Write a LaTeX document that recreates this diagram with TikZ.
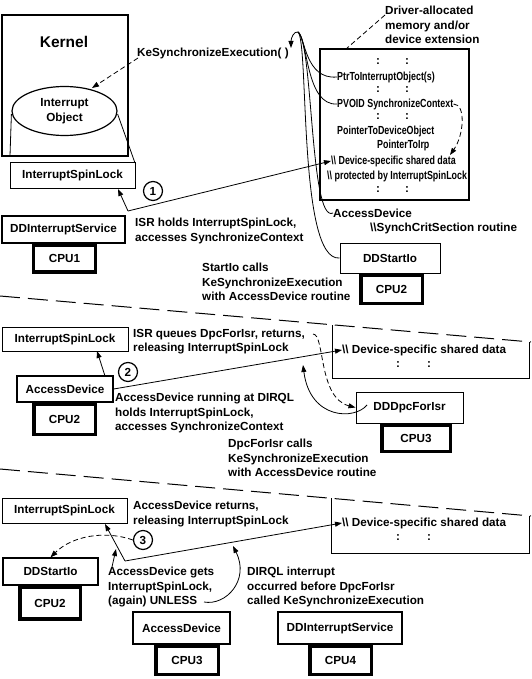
\documentclass[tikz,border=0pt]{standalone}
\usepackage{fontspec}
\setmainfont{Liberation Sans}
\newfontfamily\narrowfont[FakeStretch=0.76]{Liberation Sans}
\usetikzlibrary{arrows.meta,shapes.geometric}
\begin{document}
\begin{tikzpicture}[x=1pt,y=-1pt,
  every node/.style={font=\bfseries\fontsize{11.7}{14.5}\selectfont, inner sep=0pt},
  txt/.style={align=left, anchor=west},
  btxt/.style={txt, font=\narrowfont\bfseries\fontsize{11.7}{14.5}\selectfont},
  box/.style={draw, line width=1pt},
  cpu/.style={draw, line width=3.5pt},
  lin/.style={line width=0.8pt},
  arr/.style={lin, -{Triangle[length=7pt,width=5pt]}},
  darr/.style={arr, dash pattern=on 5pt off 3pt},
  dln/.style={lin, dash pattern=on 5pt off 3pt},
  sep/.style={line width=1pt, dash pattern=on 20pt off 8pt},
  num/.style={draw, circle, line width=1.2pt, minimum size=19pt}]
\useasboundingbox (0,0) rectangle (531,679);

% ---------------- panel 1 ----------------
\node[draw, line width=1.8pt, minimum width=126pt, minimum height=141pt] (kernel) at (65,85.5) {};
\node[font=\bfseries\fontsize{15.5}{18}\selectfont] (kl) at (64,42) {Kernel};
\node[draw, ellipse, line width=1.2pt, fill=white, minimum width=105pt, minimum height=49pt, align=center] (io) at (64.5,111) {Interrupt\\Object};
\node[box, minimum width=125pt, minimum height=25pt] (isl1) at (72.5,175.5) {InterruptSpinLock};
\coordinate (ioL) at (10,156);
\coordinate (ioR) at (135,163);
\draw[lin] (io.west) ++(0,3) coordinate (ioW) -- (ioL);
\draw[lin] (io.east) ++(0,3) coordinate (ioE) -- (ioR);
\node[box, line width=1.3pt, minimum width=123pt, minimum height=27pt] (dis1) at (63.5,229.5) {DDInterruptService};
\node[cpu, minimum width=62pt, minimum height=27pt] (cpu1) at (64.5,258.5) {CPU1};
\node[num] (n1) at (153,191) {1};

\node[txt] (kse) at (137,53) {KeSynchronizeExecution(\ )};
\draw[darr] (kse.west) ++(1,5) coordinate (kseS) -- (92,88) coordinate (ioT);

\node[txt] (drv) at (385,25) {Driver-allocated\\memory and/or\\device extension};
\node[draw, line width=1.8pt, minimum width=149pt, minimum height=151pt] (mem) at (394.5,124.5) {};
\draw[dln] (drv.west) ++(0,-10) coordinate (drvA) -- (346,49) coordinate (memT);

\foreach \y/\n in {62/c1,90/c2,117/c3,190/c4}{
  \node (\n a) at (378,\y) {:};
  \node (\n b) at (407,\y) {:};
}
\node[btxt] (ptr) at (337,77) {PtrToInterruptObject(s)};
\node[btxt] (pvoid) at (337,104) {PVOID SynchronizeContext};
\node[btxt] (ptdo) at (337,131) {PointerToDeviceObject};
\node[btxt] (ptirp) at (377,145) {PointerToIrp};
\node[btxt] (dsd1) at (331,161) {\textbackslash\textbackslash\ Device-specific shared data};
\node[btxt] (prot) at (327,176) {\textbackslash\textbackslash\ protected by InterruptSpinLock};

\node[txt] (isr1) at (135,231) {ISR holds InterruptSpinLock,\\accesses SynchronizeContext};
\node[txt] (acd) at (333,213) {AccessDevice};
\node[txt] (scs) at (370,228) {\textbackslash\textbackslash SynchCritSection routine};
\node[box, minimum width=100pt, minimum height=30pt] (dsio1) at (390,258) {DDStartIo};
\node[cpu, minimum width=61.5pt, minimum height=28.5pt] (cpu2a) at (391.5,289) {CPU2};
\node[txt] (sio) at (202,282) {StartIo calls\\KeSynchronizeExecution\\with AccessDevice routine};

% connectors panel 1
\coordinate (c1) at (128,211);
\coordinate (isl1t) at (118,189);
\draw[arr] (c1) -- (isl1t);
\draw[arr] (c1) -- (dsd1.west);
\coordinate (P) at (298,32);
\coordinate (hk) at (291,48);
\draw[arr] (P) .. controls (294,31) and (291,38) .. (hk);
\draw[lin] (P) .. controls (305,36) and (305,80) .. (ptr.west);
\draw[lin] (P) .. controls (308,40) and (306,106) .. (pvoid.west);
\draw[lin] (P) .. controls (313,42) and (310,224) .. (acd.west);
\draw[lin] (P) .. controls (309,42) and (298,262) .. (dsio1.west);
\draw[darr] (pvoid.east) .. controls (466,104) and (464,135) .. (450,155) coordinate (dsdT);

% separator 1
\coordinate (s1a) at (0,296);
\coordinate (s1b) at (531,342);
\draw[sep] (s1a) -- (s1b);

% ---------------- panel 2 ----------------
\node[box, minimum width=126pt, minimum height=24pt] (isl2) at (65,339) {InterruptSpinLock};
\node[box, line width=1.3pt, minimum width=96pt, minimum height=26pt] (ad2) at (65,389) {AccessDevice};
\node[cpu, minimum width=61.5pt, minimum height=30.5pt] (cpu2b) at (64.5,419) {CPU2};
\node[num] (n2) at (128,372) {2};
\node[txt] (q2) at (133,341.5) {ISR queues DpcForIsr, returns,\\releasing InterruptSpinLock};
\node[txt] (run2) at (115,413) {AccessDevice running at DIRQL\\holds InterruptSpinLock,\\accesses SynchronizeContext};
\node[txt] (dpcc) at (228,458) {DpcForIsr calls\\KeSynchronizeExecution\\with AccessDevice routine};
\draw[lin] (332,325) coordinate (d2a) -- (332,378) -- (529,378) -- (529,342) coordinate (d2b);
\node[txt] (dsd2) at (342,350) {\textbackslash\textbackslash\ Device-specific shared data};
\node (c5a) at (398,365) {:};
\node (c5b) at (429,365) {:};
\node[box, minimum width=107pt, minimum height=31pt] (dpc) at (409.5,407.5) {DDDpcForIsr};
\node[cpu, minimum width=68.5pt, minimum height=26.5pt] (cpu3a) at (416,438) {CPU3};

\coordinate (ad2t) at (105,376);
\coordinate (isl2b) at (97,351);
\draw[arr] (ad2t) -- (isl2b);
\draw[arr] (ad2.east) -- (dsd2.west);
\coordinate (ret) at (313,334);
\draw[darr] (ret) .. controls (325,334) and (318,398) .. (dpc.west);
\coordinate (dpcT) at (367,405);
\coordinate (m2) at (303,365);
\draw[arr] (dpcT) .. controls (355,420) and (310,420) .. (m2);

% separator 2
\coordinate (s2a) at (0,469);
\coordinate (s2b) at (531,516);
\draw[sep] (s2a) -- (s2b);

% ---------------- panel 3 ----------------
\node[box, minimum width=125pt, minimum height=25pt] (isl3) at (64.5,510.5) {InterruptSpinLock};
\node[txt] (ret3) at (133,514) {AccessDevice returns,\\releasing InterruptSpinLock};
\draw[lin] (331,498) coordinate (d3a) -- (331,553) -- (529,553) -- (529,516) coordinate (d3b);
\node[txt] (dsd3) at (342,523) {\textbackslash\textbackslash\ Device-specific shared data};
\node (c6a) at (398,538) {:};
\node (c6b) at (429,538) {:};
\node[num] (n3) at (143,540) {3};
\node[box, line width=1.3pt, minimum width=95pt, minimum height=27pt] (dsio3) at (50.5,571.5) {DDStartIo};
\node[cpu, minimum width=60.5pt, minimum height=31.5pt] (cpu2c) at (50,603) {CPU2};
\node[txt] (gets) at (108,587) {AccessDevice gets\\InterruptSpinLock,\\(again) UNLESS};
\node[txt] (dirql) at (247,587) {DIRQL interrupt\\occurred before DpcForIsr\\called KeSynchronizeExecution};
\node[box, line width=1.3pt, minimum width=97pt, minimum height=32pt] (ad3) at (181.5,628) {AccessDevice};
\node[cpu, minimum width=62.5pt, minimum height=28.5pt] (cpu3b) at (187,660) {CPU3};
\node[box, line width=1.3pt, minimum width=124pt, minimum height=32pt] (dis3) at (340,628) {DDInterruptService};
\node[cpu, minimum width=61.5pt, minimum height=28.5pt] (cpu4) at (340.5,660) {CPU4};

\coordinate (c3) at (125,561);
\coordinate (isl3b) at (105,524);
\draw[arr] (c3) -- (isl3b);
\draw[arr] (c3) -- (dsd3.west);
\coordinate (getsT) at (112,567);
\coordinate (getsA) at (116,549);
\draw[arr] (getsT) -- (getsA);
\draw[darr] (n3.west) .. controls (105,530) and (72,536) .. (dsio3.north);
\coordinate (unl) at (204,602);
\coordinate (m3) at (233,546);
\draw[arr] (unl) .. controls (226,606) and (250,580) .. (m3);
\end{tikzpicture}
\end{document}
